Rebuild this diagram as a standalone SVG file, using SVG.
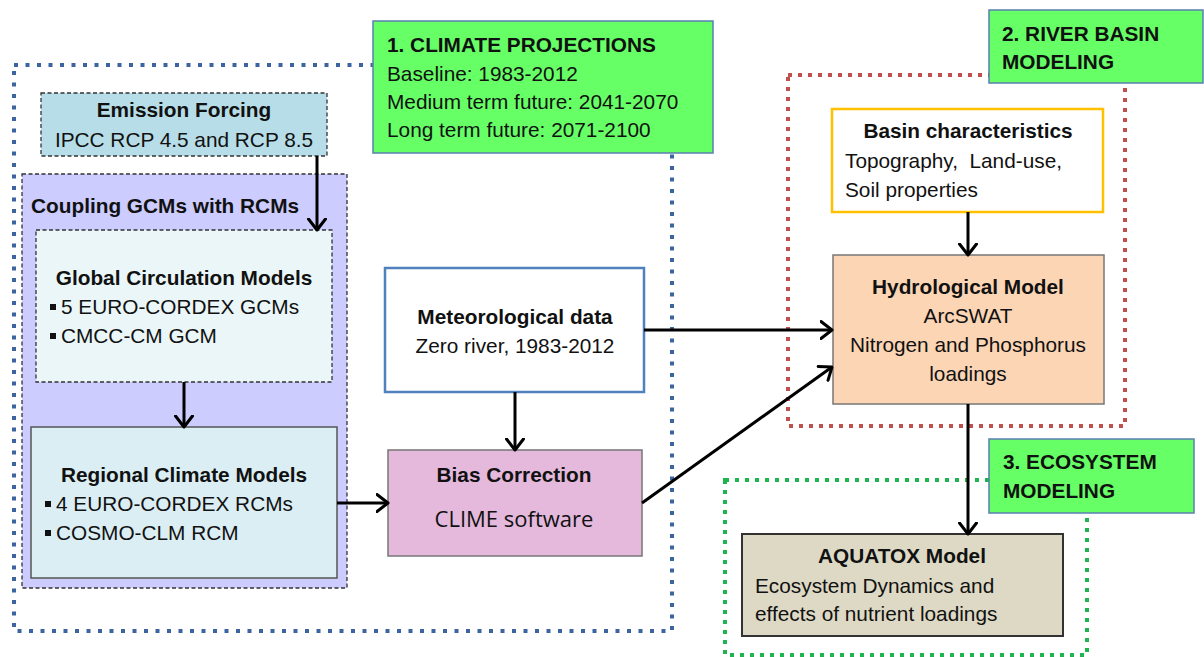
<svg xmlns="http://www.w3.org/2000/svg" width="1204" height="657" viewBox="0 0 1204 657">
<defs>
<marker id="arr" markerUnits="userSpaceOnUse" viewBox="0 0 14 20" markerWidth="14" markerHeight="20" refX="12.5" refY="10" orient="auto">
<path d="M1.5,1.5 L12.5,10 L1.5,18.5" fill="none" stroke="#000" stroke-width="3" stroke-linejoin="round" stroke-linecap="round"/>
</marker>
</defs>
<style>
text{font-family:"Liberation Sans",Arial,sans-serif;font-size:20.8px;fill:#111}
.b{font-weight:bold}
.c{text-anchor:middle}
.cal{font-family:"Open Sans","Liberation Sans",sans-serif;font-size:22px}
.frame{fill:none;stroke-width:4}
.hdr{fill:#66ff66;stroke:#5a7fb0;stroke-width:1.5}
.conn{fill:none;stroke:#000;stroke-width:3;marker-end:url(#arr)}
.dash{stroke:#333;stroke-width:1.3;stroke-dasharray:4 2.5}
.bul{fill:#111}
</style>
<rect width="1204" height="657" fill="#fff"/>

<g id="frames">
<rect x="14" y="65" width="658" height="566" class="frame" stroke="#3c64a0" stroke-dasharray="4 7.5"/>
<rect x="788" y="75" width="337" height="351" class="frame" stroke="#c0504d" stroke-dasharray="4 6"/>
<rect x="725" y="480" width="362" height="175" class="frame" stroke="#1eb450" stroke-dasharray="4 6"/>
</g>

<g id="climate-projections">
<rect x="373" y="21" width="340" height="132" class="hdr"/>
<text x="387" y="52" class="b">1. CLIMATE PROJECTIONS</text>
<text x="387" y="81">Baseline: 1983-2012</text>
<text x="387" y="109">Medium term future: 2041-2070</text>
<text x="387" y="137">Long term future: 2071-2100</text>
</g>

<g id="river-basin-modeling">
<rect x="989" y="10" width="214" height="73" class="hdr"/>
<text x="1002" y="41" class="b">2. RIVER BASIN</text>
<text x="1002" y="69" class="b">MODELING</text>
</g>

<g id="ecosystem-modeling">
<rect x="989" y="439" width="205" height="74" class="hdr"/>
<text x="1003" y="469" class="b">3. ECOSYSTEM</text>
<text x="1003" y="498" class="b">MODELING</text>
</g>

<g id="coupling">
<rect x="22" y="174" width="325" height="414" fill="#ccccff" class="dash"/>
<text x="31" y="213" class="b">Coupling GCMs with RCMs</text>
</g>

<g id="emission-forcing">
<rect x="41" y="93" width="286" height="63" fill="#b7dee8" class="dash"/>
<text x="184" y="117" class="b c">Emission Forcing</text>
<text x="184" y="147" class="c">IPCC RCP 4.5 and RCP 8.5</text>
</g>

<g id="gcm">
<rect x="36" y="230" width="296" height="152" fill="#eaf6f8" class="dash"/>
<text x="184" y="285" class="b c">Global Circulation Models</text>
<rect x="50" y="304" width="6" height="6" class="bul"/>
<text x="61" y="314">5 EURO-CORDEX GCMs</text>
<rect x="50" y="333" width="6" height="6" class="bul"/>
<text x="61" y="343">CMCC-CM GCM</text>
</g>

<g id="rcm">
<rect x="31" y="427" width="306" height="151" fill="#dbeef4" stroke="#555" stroke-width="1.5"/>
<text x="184" y="482" class="b c">Regional Climate Models</text>
<rect x="45" y="501" width="6" height="6" class="bul"/>
<text x="56" y="511">4 EURO-CORDEX RCMs</text>
<rect x="45" y="530" width="6" height="6" class="bul"/>
<text x="56" y="540">COSMO-CLM RCM</text>
</g>

<g id="meteorological-data">
<rect x="385" y="268" width="259" height="124" fill="#fff" stroke="#4f81bd" stroke-width="2.5"/>
<text x="515" y="324" class="b c">Meteorological data</text>
<text x="515" y="353" class="c">Zero river, 1983-2012</text>
</g>

<g id="bias-correction">
<rect x="388" y="450" width="254" height="106" fill="#e4b9dc" stroke="#777" stroke-width="1.5"/>
<text x="514" y="482" class="b c">Bias Correction</text>
<text x="514" y="527" class="c cal">CLIME software</text>
</g>

<g id="basin-characteristics">
<rect x="832" y="109" width="271" height="103" fill="#fff" stroke="#ffc000" stroke-width="2.5"/>
<text x="968" y="138" class="b c">Basin characteristics</text>
<text x="845" y="168" xml:space="preserve">Topography,  Land-use,</text>
<text x="845" y="197">Soil properties</text>
</g>

<g id="hydrological-model">
<rect x="833" y="255" width="271" height="149" fill="#fcd5b5" stroke="#777" stroke-width="1.5"/>
<text x="968" y="294" class="b c">Hydrological Model</text>
<text x="968" y="323" class="c">ArcSWAT</text>
<text x="968" y="352" class="c">Nitrogen and Phosphorus</text>
<text x="968" y="381" class="c">loadings</text>
</g>

<g id="aquatox-model">
<rect x="742" y="534" width="321" height="102" fill="#ddd9c4" stroke="#333" stroke-width="2"/>
<text x="902" y="563" class="b c">AQUATOX Model</text>
<text x="755" y="593">Ecosystem Dynamics and</text>
<text x="755" y="621">effects of nutrient loadings</text>
</g>

<g id="connectors">
<line x1="317" y1="156" x2="317" y2="230" class="conn"/>
<line x1="184" y1="382" x2="184" y2="427" class="conn"/>
<line x1="337" y1="503" x2="388" y2="503" class="conn"/>
<line x1="515" y1="392" x2="515" y2="450" class="conn"/>
<line x1="644" y1="330" x2="832" y2="330" class="conn"/>
<line x1="642" y1="503" x2="832" y2="367" class="conn"/>
<line x1="968" y1="212" x2="968" y2="255" class="conn"/>
<line x1="968" y1="404" x2="968" y2="534" class="conn"/>
</g>
</svg>
